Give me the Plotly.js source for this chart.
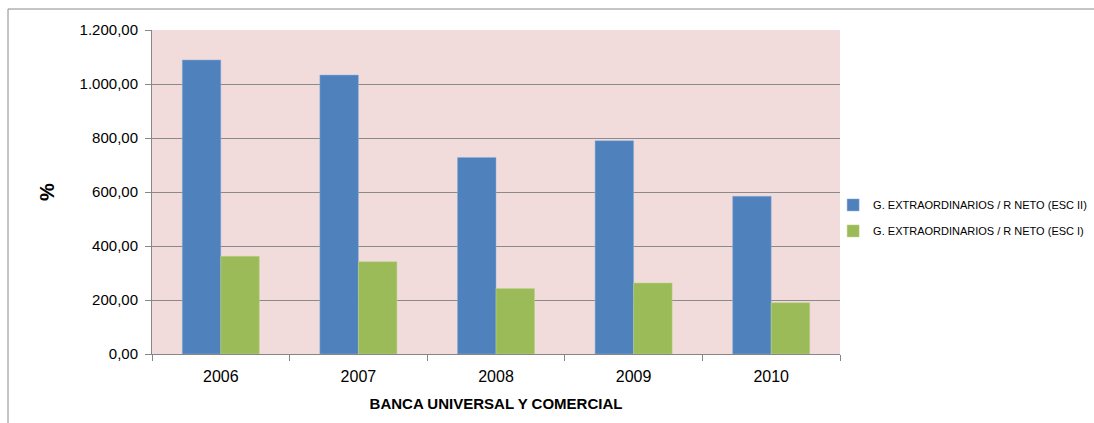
<!DOCTYPE html>
<html><head><meta charset="utf-8">
<script src="https://cdn.plot.ly/plotly-3.0.1.min.js"></script>
<style>body{margin:0;background:#fff}#c{width:1094px;height:423px}</style>
</head><body><div id="c"></div>
<script>
const years = ['2006','2007','2008','2009','2010'];
const escII = [1089, 1033, 728, 790, 584];
const escI = [362, 342, 243, 263, 190];
const nameII = 'G. EXTRAORDINARIOS / R NETO (ESC II)';
const nameI = 'G. EXTRAORDINARIOS / R NETO (ESC I)';
const font = "'Liberation Sans', Arial, sans-serif";
const traces = [
  {type:'bar', x:years, y:escII, name:nameII, legendgroup:'a', marker:{color:'#4F81BD', line:{color:'#8fb0d9', width:0.5}}},
  {type:'bar', x:years, y:escI, name:nameI, legendgroup:'b', marker:{color:'#9BBB59', line:{color:'#bcd48f', width:0.5}}}
];
const layout = {
  width:1094, height:423,
  margin:{l:152, r:254, t:30, b:69, autoexpand:false},
  paper_bgcolor:'#fff', plot_bgcolor:'#F2DCDB',
  separators:',.',
  font:{family:font, size:15, color:'#000'},
  bargap:0.44, bargroupgap:0,
  showlegend:true,
  legend:{x:0.99, y:0.42, xanchor:'left', yanchor:'middle', font:{size:11, family:font}, traceorder:'grouped', tracegroupgap:7, itemwidth:30, bgcolor:'rgba(0,0,0,0)'},
  xaxis:{type:'category', showline:true, linecolor:'#868686', linewidth:1, ticks:'outside', tickson:'boundaries', ticklen:6, tickcolor:'#868686',
    tickfont:{size:16}, ticklabelstandoff:8, title:{text:'<b>BANCA UNIVERSAL Y COMERCIAL</b>', font:{size:15}, standoff:14}, showgrid:false},
  yaxis:{range:[0,1200], dtick:200, tickformat:',.2f', showline:true, linecolor:'#868686', linewidth:1, ticks:'outside', ticklen:6, tickcolor:'#868686',
    gridcolor:'#8a8a8a', gridwidth:1, zeroline:false, tickfont:{size:15}, ticklabelstandoff:4,
    title:{text:'<b>%</b>', font:{size:20}, standoff:19}},
  shapes:[{type:'rect', xref:'paper', yref:'paper', x0:-0.2093, x1:1.6, y0:-0.5, y1:1.0648, line:{color:'#8a8a8a', width:1}, fillcolor:'rgba(0,0,0,0)', layer:'below'}]
};
Plotly.newPlot('c', traces, layout, {displayModeBar:false, staticPlot:true});
</script></body></html>
